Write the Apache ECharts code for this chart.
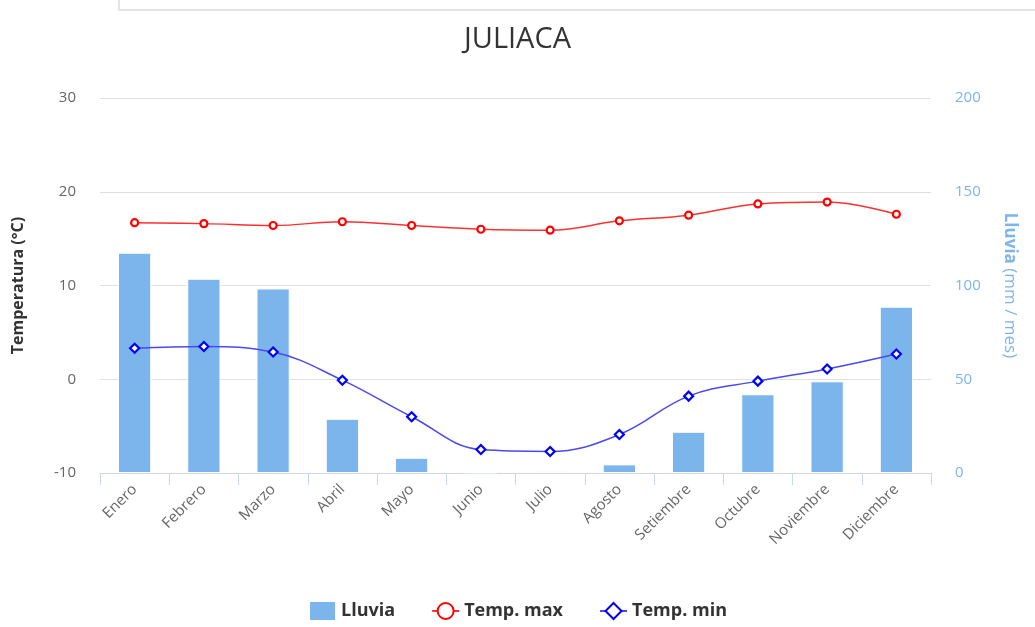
<!DOCTYPE html>
<html><head><meta charset="utf-8">
<script src="https://cdn.jsdelivr.net/npm/echarts@6/dist/echarts.min.js"></script>
<style>html,body{margin:0;padding:0;background:#fff}#c{width:1035px;height:627px}</style>
</head><body><div id="c"></div>
<script>
const months = ['Enero','Febrero','Marzo','Abril','Mayo','Junio','Julio','Agosto','Setiembre','Octubre','Noviembre','Diciembre'];
const lluvia = [117.5, 103.6, 98.4, 28.9, 8.1, 0.3, 1.1, 4.6, 22.0, 42.0, 48.9, 88.7];
const tempMax = [16.7, 16.6, 16.4, 16.8, 16.4, 16.0, 15.9, 16.9, 17.5, 18.7, 18.9, 17.6];
const tempMin = [3.3, 3.5, 2.9, -0.1, -4.0, -7.5, -7.7, -5.9, -1.8, -0.2, 1.1, 2.7];
const tempTicks = {min: -10, max: 30, interval: 10};
const rainTicks = {min: 0, max: 200, interval: 50};

const F = '"Open Sans", "Noto Sans", sans-serif';
const chart = echarts.init(document.getElementById('c'));
chart.setOption({
  animation: false,
  textStyle: {fontFamily: F},
  title: {text: 'JULIACA', left: 'center', top: 20, textStyle: {fontFamily: F, fontSize: 29, fontWeight: 'normal', color: '#333'}},
  graphic: [{type: 'polyline', shape: {points: [[119, 0], [119, 10], [1035, 10]]}, style: {stroke: '#dcdcdc', lineWidth: 1.5, fill: null}}],
  legend: {bottom: 0, left: 'center', itemGap: 36, itemWidth: 27, itemHeight: 20,
    textStyle: {fontFamily: F, fontSize: 18, fontWeight: 'bold', color: '#333'},
    data: [{name: 'Lluvia', icon: 'rect'}, 'Temp. max', 'Temp. min']},
  grid: {left: 100, right: 104, top: 98, bottom: 154},
  xAxis: {type: 'category', data: months,
    axisLine: {onZero: false, lineStyle: {color: '#ccd6eb'}},
    axisTick: {show: true, length: 12, lineStyle: {color: '#ccd6eb'}},
    axisLabel: {rotate: 45, color: '#666', fontSize: 15, margin: 14}},
  yAxis: [
    {type: 'value', min: tempTicks.min, max: tempTicks.max, interval: tempTicks.interval,
     name: 'Temperatura (°C)', nameLocation: 'middle', nameGap: 74, nameRotate: 90,
     nameTextStyle: {fontWeight: 'bold', fontSize: 16, color: '#333'},
     axisLabel: {color: '#666', fontSize: 15, margin: 24},
     splitLine: {lineStyle: {color: '#e0e0e0'}}},
    {type: 'value', min: rainTicks.min, max: rainTicks.max, interval: rainTicks.interval,
     name: '{b|Lluvia} (mm / mes)', nameLocation: 'middle', nameGap: 70, nameRotate: -90,
     nameTextStyle: {fontSize: 17, color: '#7cb5ec', rich: {b: {fontWeight: 'bold', fontSize: 17, color: '#7cb5ec'}}},
     axisLabel: {color: '#7cb5ec', fontSize: 15, margin: 24},
     splitLine: {show: false}}
  ],
  series: [
    {name: 'Lluvia', type: 'bar', yAxisIndex: 1, data: lluvia, barWidth: '48%',
     itemStyle: {color: '#7cb5ec', borderColor: '#fff', borderWidth: 1}},
    {name: 'Temp. max', type: 'line', yAxisIndex: 0, data: tempMax, smooth: 0.4,
     symbol: 'circle', symbolSize: 7, color: '#ff0000',
     lineStyle: {color: '#ff3030', width: 1.5},
     itemStyle: {color: '#fff', borderColor: '#ff0000', borderWidth: 2.2}},
    {name: 'Temp. min', type: 'line', yAxisIndex: 0, data: tempMin, smooth: 0.4,
     symbol: 'diamond', symbolSize: 9, color: '#0000ff',
     lineStyle: {color: '#4a4af0', width: 1.5},
     itemStyle: {color: '#fff', borderColor: '#0000ff', borderWidth: 2.2}}
  ]
});
</script></body></html>
